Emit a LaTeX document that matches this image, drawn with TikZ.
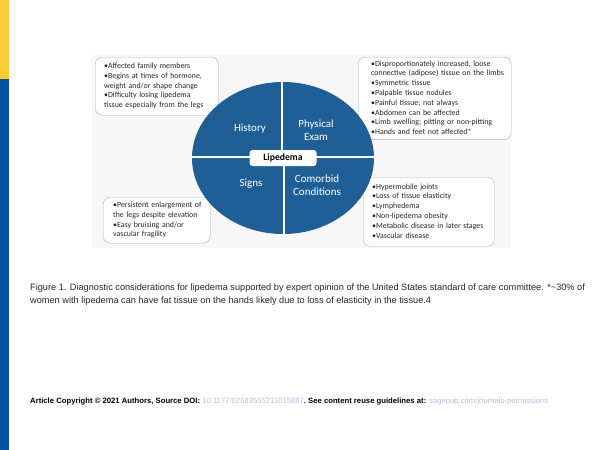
\documentclass[tikz,border=0pt]{standalone}
\usepackage{fontspec}
\setmainfont{Carlito}
\newfontfamily\capfont{Liberation Sans}
\usepackage{tikz}
\usetikzlibrary{positioning}
\definecolor{lipblue}{RGB}{31,95,150}
\definecolor{barblue}{RGB}{0,82,160}
\definecolor{baryellow}{RGB}{255,204,51}
\definecolor{edge}{RGB}{160,178,198}
\definecolor{linkc}{RGB}{190,182,232}
\newcommand\bultext[1]{\begin{tabular}{@{}l@{}}#1\end{tabular}}

\begin{document}
\begin{tikzpicture}[x=1pt,y=-1pt,
  bx/.style={draw=edge,fill=white,rounded corners=7pt,anchor=north west,align=left,
    font=\fontsize{7.9}{9.8}\selectfont,text=black!85,inner ysep=2pt},
  lbl/.style={text=white,align=center,font=\fontsize{11}{12.5}\selectfont},
  gap/.style={white,line width=2pt}]
  \useasboundingbox (0,0) rectangle (600,450);
  \fill[baryellow] (0,0) rectangle (9,79);
  \fill[barblue] (0,79) rectangle (9,450);
  \fill[black!3] (92,55) rectangle (511,248);
  % boxes
  \node[bx,inner xsep=9pt,text width=105pt,minimum height=58pt] (hist) at (95,57)
    {\bultext{•Affected family members\\•Begins at times of hormone,\\weight and/or shape change\\•Difficulty losing lipedema\\tissue especially from the legs}};
  \node[bx,inner xsep=13pt,text width=127pt,minimum height=78pt] (exam) at (358,57)
    {\bultext{•Disproportionately increased, loose\\connective (adipose) tissue on the limbs\\•Symmetric tissue\\•Palpable tissue nodules\\•Painful tissue; not always\\•Abdomen can be affected\\•Limb swelling; pitting or non-pitting\\•Hands and feet not affected*}};
  \node[bx,inner xsep=10pt,text width=87pt,minimum height=46pt] (sign) at (103,197)
    {\bultext{•Persistent enlargement of\\the legs despite elevation\\•Easy bruising and/or\\vascular fragility}};
  \node[bx,inner xsep=9pt,text width=113pt,minimum height=69pt] (como) at (363,177)
    {\bultext{•Hypermobile joints\\•Loss of tissue elasticity\\•Lymphedema\\•Non-lipedema obesity\\•Metabolic disease in later stages\\•Vascular disease}};
  % ellipse
  \fill[lipblue] (283,158) ellipse [x radius=91,y radius=76];
  \draw[gap] (282,80) -- (282,157);
  \draw[gap] (284,157) -- (284,236);
  \draw[gap] (190,157) -- (376,157);
  \node[lbl] (h) at (250,129) {History};
  \node[lbl] (p) at (316,130) {Physical\\Exam};
  \node[lbl] (s) at (251,184) {Signs};
  \node[lbl] (c) at (317,185) {Comorbid\\Conditions};
  \node[fill=white,rounded corners=3pt,minimum width=67pt,minimum height=16pt,inner sep=1pt,
    font=\fontsize{9.7}{10}\selectfont\bfseries] (lip) at (283,158) {Lipedema};
  % caption
  \node[anchor=north west,align=left,inner sep=0pt,text=black!85,
    font=\capfont\fontsize{9.2}{13}\selectfont] (cap) at (30,284)
    {Figure 1. Diagnostic considerations for lipedema supported by expert opinion of the United States standard of care committee. *\textasciitilde30\% of\\women with lipedema can have fat tissue on the hands likely due to loss of elasticity in the tissue.4};
  \node[anchor=west,inner sep=0pt,font=\capfont\fontsize{7.7}{8}\selectfont\bfseries] (copy) at (30,402)
    {Article Copyright © 2021 Authors, Source DOI: \textcolor{linkc}{\mdseries 10.1177/02683555211015887}.\ See content reuse guidelines at: \textcolor{linkc}{\mdseries sagepub.com/journals-permissions}};
\end{tikzpicture}
\end{document}
